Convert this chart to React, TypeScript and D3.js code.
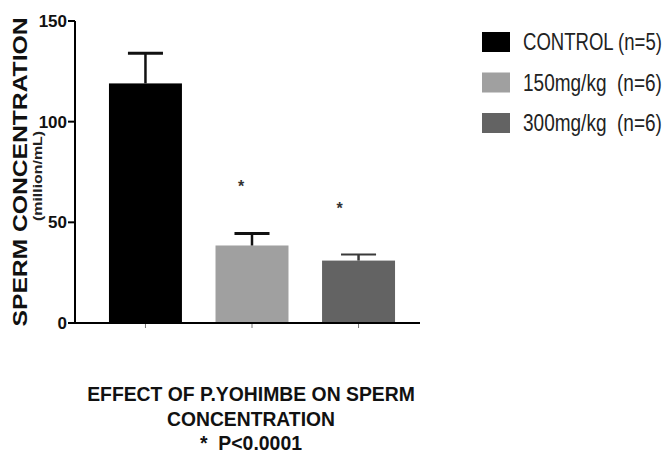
import { useEffect, useRef } from 'react';
import * as d3 from 'd3';

const groups = ['CONTROL (n=5)', '150mg/kg  (n=6)', '300mg/kg  (n=6)'];
const means = [119, 38.5, 31];
const sems = [15, 6, 3];
const colors = ['#000000', '#a0a0a0', '#636363'];
const significant = [false, true, true];
const yTicks = [0, 50, 100, 150];
const titleLines = ['EFFECT OF P.YOHIMBE ON SPERM', 'CONCENTRATION', '*  P<0.0001'];
const titleWidths = [328, 168, 102];

const FONT = "'Liberation Sans', Arial, sans-serif";

// squeeze a text element horizontally so it looks like a narrow font
function narrow(sel: d3.Selection<SVGTextElement, unknown, null, undefined>, width: number, ax: number, ay: number) {
  const natural = sel.node()!.getComputedTextLength();
  const sx = width / natural;
  sel.attr('transform', `translate(${ax},${ay}) scale(${sx},1)`);
}

export default function App() {
  const svgRef = useRef<SVGSVGElement>(null);

  useEffect(() => {
    if (!svgRef.current) return;
    const svg = d3.select(svgRef.current);
    svg.selectAll('*').remove();

    const x0 = 75;
    const x1 = 420;
    const y = d3.scaleLinear().domain([0, 150]).range([323, 21]);
    const x = d3.scaleBand<string>()
      .domain(groups)
      .range([77, 427])
      .paddingInner(0.315)
      .paddingOuter(0.3);

    // y axis
    svg.append('line')
      .attr('x1', x0).attr('x2', x0)
      .attr('y1', y(150)).attr('y2', y(0))
      .attr('stroke', '#000').attr('stroke-width', 2);

    const yt = svg.append('g');
    yt.selectAll('line')
      .data(yTicks)
      .join('line')
      .attr('x1', x0 - 7).attr('x2', x0)
      .attr('y1', d => y(d)).attr('y2', d => y(d))
      .attr('stroke', '#000').attr('stroke-width', 2);
    yt.selectAll('text')
      .data(yTicks)
      .join('text')
      .attr('x', x0 - 8)
      .attr('y', d => y(d))
      .attr('dy', '0.36em')
      .attr('text-anchor', 'end')
      .style('font-family', FONT)
      .style('font-size', '17px')
      .style('font-weight', 'bold')
      .style('fill', '#111')
      .text(d => d);

    // bars
    svg.selectAll('rect.bar')
      .data(groups)
      .join('rect')
      .attr('class', 'bar')
      .attr('x', d => x(d)!)
      .attr('width', x.bandwidth())
      .attr('y', (_, i) => y(means[i]))
      .attr('height', (_, i) => y(0) - y(means[i]))
      .attr('fill', (_, i) => colors[i]);

    // error bars (upper only) + significance stars
    const capW = x.bandwidth() * 0.48;
    const starDx = [0, -11, -19];
    groups.forEach((g, i) => {
      const cx = x(g)! + x.bandwidth() / 2;
      const top = y(means[i] + sems[i]);
      const stroke = i === 2 ? '#3a3a3a' : '#111';
      svg.append('line')
        .attr('x1', cx).attr('x2', cx)
        .attr('y1', y(means[i])).attr('y2', top)
        .attr('stroke', stroke).attr('stroke-width', 2.5);
      svg.append('line')
        .attr('x1', cx - capW / 2).attr('x2', cx + capW / 2)
        .attr('y1', top).attr('y2', top)
        .attr('stroke', stroke).attr('stroke-width', i === 2 ? 2 : 3);
      if (significant[i]) {
        svg.append('text')
          .attr('x', cx + starDx[i])
          .attr('y', top - 50 + 9)
          .attr('text-anchor', 'middle')
          .style('font-family', FONT)
          .style('font-size', '16px')
          .style('font-weight', 'bold')
          .style('fill', '#333')
          .text('*');
      }
      // small x tick under each bar
      svg.append('line')
        .attr('x1', cx).attr('x2', cx)
        .attr('y1', y(0)).attr('y2', y(0) + 5)
        .attr('stroke', '#777').attr('stroke-width', 1);
    });

    // x axis
    svg.append('line')
      .attr('x1', x0 - 1).attr('x2', x1)
      .attr('y1', y(0)).attr('y2', y(0))
      .attr('stroke', '#000').attr('stroke-width', 2);

    // y label
    svg.append('text')
      .attr('transform', `translate(27, 172) rotate(-90)`)
      .attr('text-anchor', 'middle')
      .attr('textLength', 309)
      .attr('lengthAdjust', 'spacingAndGlyphs')
      .style('font-family', FONT)
      .style('font-size', '20px')
      .style('font-weight', 'bold')
      .style('fill', '#111')
      .text('SPERM CONCENTRATION');
    svg.append('text')
      .attr('transform', `translate(42, 176) rotate(-90)`)
      .attr('text-anchor', 'middle')
      .attr('textLength', 90)
      .attr('lengthAdjust', 'spacingAndGlyphs')
      .style('font-family', FONT)
      .style('font-size', '12px')
      .style('font-weight', 'bold')
      .style('fill', '#222')
      .text('(million/mL)');

    // legend
    const legend = svg.append('g').attr('transform', 'translate(482, 32)');
    groups.forEach((g, i) => {
      legend.append('rect')
        .attr('x', 0).attr('y', i * 40.5)
        .attr('width', 28).attr('height', 20)
        .attr('fill', colors[i]);
      const t = legend.append('text')
        .style('font-family', FONT)
        .style('font-size', '23px')
        .style('white-space', 'pre')
        .style('fill', '#222')
        .text(g);
      narrow(t as any, 139, 41, i * 40.5 + 18);
    });

    // title
    titleLines.forEach((line, i) => {
      const t = svg.append('text')
        .attr('text-anchor', 'middle')
        .style('font-family', FONT)
        .style('font-size', '21px')
        .style('font-weight', 'bold')
        .style('white-space', 'pre')
        .style('fill', '#111')
        .text(line);
      narrow(t as any, titleWidths[i], 251, 401 + i * 24.5);
    });
  }, []);

  return (
    <svg
      ref={svgRef}
      width={667}
      height={455}
      style={{ position: 'absolute', left: 0, top: 0, background: '#fff' }}
    />
  );
}
